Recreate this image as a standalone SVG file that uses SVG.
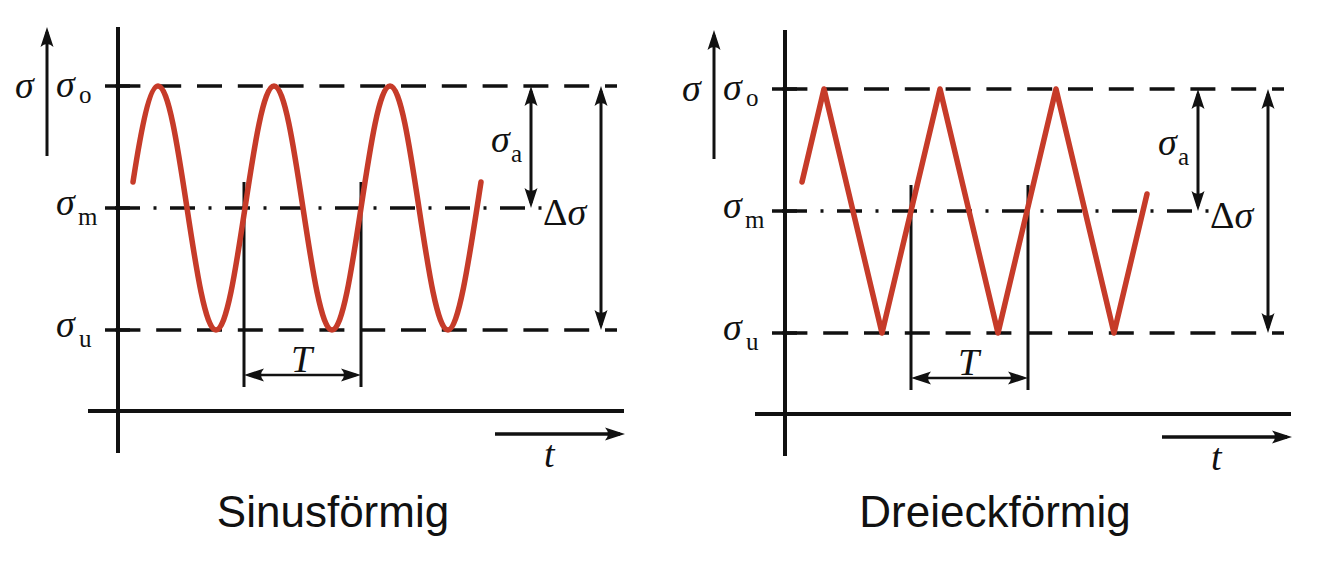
<svg xmlns="http://www.w3.org/2000/svg" width="1342" height="576" viewBox="0 0 1342 576">
<style>
.ax{stroke:#111;stroke-width:4;fill:none}
.tk{stroke:#111;stroke-width:3.5;fill:none}
.ds{stroke:#111;stroke-width:3.5;fill:none;stroke-dasharray:25 15.8}
.dd{stroke:#111;stroke-width:3.5;fill:none;stroke-dasharray:25 13.5 3 13.5}
.ln{stroke:#111;stroke-width:3;fill:none}
.ar{stroke:#111;stroke-width:3;fill:none;marker-end:url(#ah)}
.ar2{stroke:#111;stroke-width:3;fill:none;marker-start:url(#ah);marker-end:url(#ah)}
.wave{stroke:#c63b29;stroke-width:5.5;fill:none;stroke-linecap:round;stroke-linejoin:round}
.m{font-family:"Liberation Serif","DejaVu Serif",serif;font-style:italic;font-size:38px;fill:#111}
.up{font-style:normal}
.s{font-family:"Liberation Serif","DejaVu Serif",serif;font-size:25px;fill:#111}
.cap{font-family:"Liberation Sans",Arial,sans-serif;font-size:44px;fill:#111;text-anchor:middle}
</style>
<defs>
<marker id="ah" viewBox="-21 -7 22 14" markerWidth="22" markerHeight="14" refX="-5" refY="0" orient="auto-start-reverse" markerUnits="userSpaceOnUse">
<path d="M0,0 L-20,-6.5 Q-14,0 -20,6.5 Z" fill="#111"/>
</marker>
</defs>

<g id="sinus">
<g id="sinus-axes">
<line class="ax" x1="118" y1="27" x2="118" y2="453"/>
<line class="ax" x1="88" y1="411" x2="624" y2="411"/>
<line class="ar" x1="47" y1="156" x2="47" y2="32"/>
<line class="ar" x1="495" y1="434" x2="620" y2="434" style="stroke-width:3.5"/>
</g>
<g id="sinus-levels">
<line class="tk" x1="105" y1="86" x2="130" y2="86"/>
<line class="tk" x1="105" y1="208" x2="130" y2="208"/>
<line class="tk" x1="105" y1="330" x2="130" y2="330"/>
<line class="ds" x1="115.4" y1="86" x2="617" y2="86"/>
<line class="dd" x1="115" y1="208" x2="542" y2="208"/>
<line class="ds" x1="115.4" y1="330" x2="617" y2="330"/>
</g>
<g id="sinus-dims">
<line class="ln" x1="244" y1="182" x2="244" y2="387"/>
<line class="ln" x1="361" y1="182" x2="361" y2="387"/>
<line class="ar2" x1="249" y1="375" x2="356" y2="375" style="stroke-width:2.5"/>
<line class="ar2" x1="531" y1="91" x2="531" y2="203"/>
<line class="ar2" x1="601" y1="91" x2="601" y2="325"/>
</g>
<path id="sinus-wave" class="wave" d="M133,182 C141.3,128.2 149.7,86 158,86 C168.5,86 177.54,145.5 187,208 C196.46,270.5 205.5,330 216,330 C226.5,330 235.54,270.5 245,208 C254.46,145.5 263.5,86 274,86 C284.5,86 293.54,145.5 303,208 C312.46,270.5 321.5,330 332,330 C342.5,330 351.54,270.5 361,208 C370.46,145.5 379.5,86 390,86 C400.5,86 409.54,145.5 419,208 C428.46,270.5 437.5,330 448,330 C459,330 470,253 481,182"/>
<g id="sinus-labels">
<text class="m" x="15" y="98">σ</text>
<text class="m" x="56" y="97">σ</text><text class="s" x="79" y="103">o</text>
<text class="m" x="56" y="215">σ</text><text class="s" x="78" y="225">m</text>
<text class="m" x="56" y="337">σ</text><text class="s" x="79" y="347">u</text>
<text class="m" x="491" y="152">σ</text><text class="s" x="511" y="162">a</text>
<text class="m" x="543" y="225"><tspan class="up">Δ</tspan>σ</text>
<text class="m" x="291" y="372">T</text>
<text class="m" x="544" y="467">t</text>
</g>
<text id="sinus-caption" class="cap" x="333" y="527">Sinusförmig</text>
</g>

<g id="dreieck">
<g transform="translate(667,3)">
<g id="dreieck-axes">
<line class="ax" x1="118" y1="27" x2="118" y2="453"/>
<line class="ax" x1="88" y1="411" x2="624" y2="411"/>
<line class="ar" x1="47" y1="156" x2="47" y2="32"/>
<line class="ar" x1="495" y1="434" x2="620" y2="434" style="stroke-width:3.5"/>
</g>
<g id="dreieck-levels">
<line class="tk" x1="105" y1="86" x2="130" y2="86"/>
<line class="tk" x1="105" y1="208" x2="130" y2="208"/>
<line class="tk" x1="105" y1="330" x2="130" y2="330"/>
<line class="ds" x1="115.4" y1="86" x2="617" y2="86"/>
<line class="dd" x1="115" y1="208" x2="542" y2="208"/>
<line class="ds" x1="115.4" y1="330" x2="617" y2="330"/>
</g>
<g id="dreieck-dims">
<line class="ln" x1="244" y1="182" x2="244" y2="387"/>
<line class="ln" x1="361" y1="182" x2="361" y2="387"/>
<line class="ar2" x1="249" y1="375" x2="356" y2="375" style="stroke-width:2.5"/>
<line class="ar2" x1="531" y1="91" x2="531" y2="203"/>
<line class="ar2" x1="601" y1="91" x2="601" y2="325"/>
</g>
<polyline id="dreieck-wave" class="wave" points="135,179 157,86 215,330 273,86 331,330 389,86 447,330 480,191"/>
<g id="dreieck-labels">
<text class="m" x="15" y="98">σ</text>
<text class="m" x="56" y="97">σ</text><text class="s" x="79" y="103">o</text>
<text class="m" x="56" y="215">σ</text><text class="s" x="78" y="225">m</text>
<text class="m" x="56" y="337">σ</text><text class="s" x="79" y="347">u</text>
<text class="m" x="491" y="152">σ</text><text class="s" x="511" y="162">a</text>
<text class="m" x="543" y="225"><tspan class="up">Δ</tspan>σ</text>
<text class="m" x="291" y="372">T</text>
<text class="m" x="544" y="467">t</text>
</g>
</g>
<text id="dreieck-caption" class="cap" x="995" y="527">Dreieckförmig</text>
</g>
</svg>
